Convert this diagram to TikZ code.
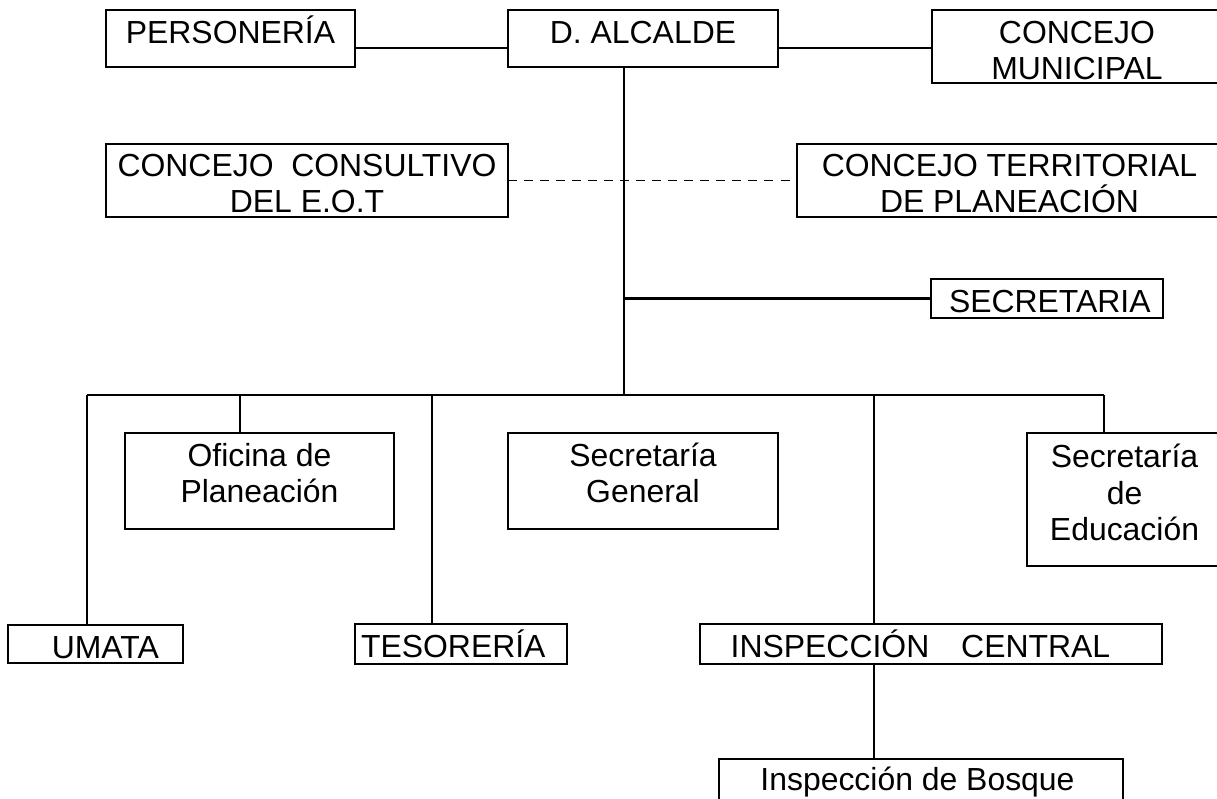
\documentclass[tikz,border=0pt]{standalone}
\usepackage{fontspec}
\setmainfont{Liberation Sans}

\begin{document}
\begin{tikzpicture}[x=0.025cm,y=-0.025cm,
  dims/.style 2 args={minimum width=#1*0.025cm,minimum height=#2*0.025cm},
  drop/.style={text height=#1,text depth=0pt},
  box/.style={draw,line width=0.8pt,inner sep=0pt,outer sep=0pt,align=center,
    font=\fontsize{22.7}{26.2}\selectfont},
  lowbox/.style={box,line width=1.6pt},
  link/.style={line width=1.5pt}]
\useasboundingbox (0,0) rectangle (1217,798);
% top row
\node (pers) [box,dims={249}{57},drop=6.4pt] at (230.5,38.5) {PERSONERÍA};
\node (alc) [box,dims={270}{57},drop=6.4pt] at (643,38.5) {D. ALCALDE};
\node (conc) [box,dims={290}{73},drop=47.5pt] at (1077,46.5) {CONCEJO\\MUNICIPAL};
\node (cons) [box,dims={402}{73},drop=46.1pt] at (307,180.5) {CONCEJO~ CONSULTIVO\\DEL E.O.T};
\node (terr) [box,dims={425}{73},drop=46.1pt] at (1009.5,180.5) {CONCEJO TERRITORIAL\\DE PLANEACIÓN};
\node (secr) [lowbox,dims={232}{39},drop=20.6pt] at (1047,298.5) {\hspace*{4pt}SECRETARIA};
% dependencies
\node (ofic) [lowbox,dims={269}{96},drop=31.2pt] at (259.5,481) {Oficina de\\Planeación};
\node (sgen) [lowbox,dims={270}{96},drop=31.2pt] at (643,481) {Secretaría\\General};
\node (educ) [lowbox,dims={195}{133},drop=58.8pt] at (1124.5,499.5) {Secretaría\\de\\Educación};
\node (umata) [lowbox,dims={175}{38},drop=21.3pt] at (95.5,644) {\hspace*{14pt}UMATA};
\node (teso) [lowbox,dims={212}{40},drop=19.8pt] at (461,644) {TESORERÍA\hspace*{11pt}};
\node (insp) [lowbox,dims={462}{40},drop=19.8pt] at (931,644) {INSPECCIÓN\quad CENTRAL\hspace*{15pt}};
\node (bosq) [lowbox,dims={404}{44},drop=14.2pt] at (921,781) {Inspección de Bosque\hspace*{5pt}};

\coordinate (hub) at (624,395);
\draw[line width=1.8pt] ([yshift=-0.2375cm]pers.east) -- ([yshift=-0.2375cm]pers.east -| alc.west);
\draw[line width=0.9pt] ([yshift=-0.2375cm]alc.east) -- ([yshift=-0.2375cm]alc.east -| conc.west);
\draw[line width=1.3pt,dash pattern=on 6.4pt off 5pt] (cons.east) -- (terr.west);
\draw[link] (hub |- alc.south) -- (hub);
\draw[link] (hub |- secr.west) -- (secr.west);
\foreach \x/\n in {87/umata,240/ofic,432/teso,874/insp,1104/educ}{
  \coordinate (t\n) at (\x,395);
  \draw[link] (t\n) -- (t\n |- \n.north);
}
\draw[link] (tumata) -- (teduc);
\draw[link] (tinsp |- insp.south) -- (tinsp |- bosq.north);
\end{tikzpicture}
\end{document}
